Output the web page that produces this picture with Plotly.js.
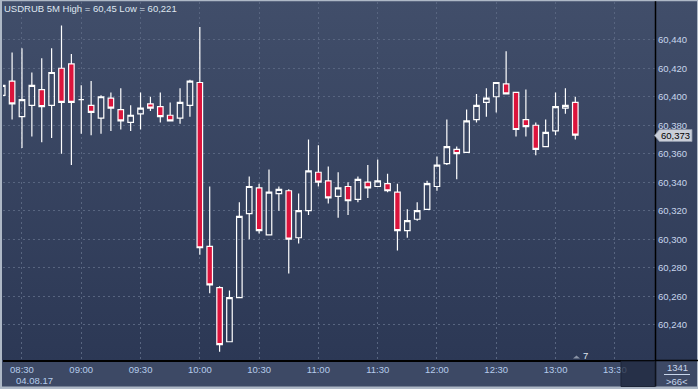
<!DOCTYPE html>
<html><head><meta charset="utf-8">
<script src="https://cdn.plot.ly/plotly-3.0.1.min.js"></script>
<style>
html,body{margin:0;padding:0;background:#3d4965;overflow:hidden;}
#chart{position:absolute;left:0;top:0;width:698px;height:389px;
background:linear-gradient(to bottom,#414e6a 0px,#2c3855 360px,#3d4965 360px,#3d4965 389px);}
</style></head><body><div id="chart"></div>
<script>
// ---- data (USDRUB, 5-minute candles, 04.08.17) ----
const times = ["08:20","08:25","08:30","08:35","08:40","08:45","08:50","08:55",
 "09:00","09:05","09:10","09:15","09:20","09:25","09:30","09:35","09:40","09:45","09:50","09:55",
 "10:00","10:05","10:10","10:15","10:20","10:25","10:30","10:35","10:40","10:45","10:50","10:55",
 "11:00","11:05","11:10","11:15","11:20","11:25","11:30","11:35","11:40","11:45","11:50","11:55",
 "12:00","12:05","12:10","12:15","12:20","12:25","12:30","12:35","12:40","12:45","12:50","12:55",
 "13:00","13:05","13:10"];
const openV = [60.401,60.411,60.386,60.394,60.405,60.394,60.420,60.423,
 60.398,60.394,60.385,60.399,60.391,60.382,60.388,60.395,60.393,60.387,60.385,60.394,
 60.410,60.295,60.266,60.228,60.259,60.318,60.336,60.303,60.332,60.334,60.301,60.320,
 60.347,60.341,60.330,60.337,60.328,60.340,60.337,60.339,60.333,60.306,60.314,60.321,
 60.337,60.353,60.363,60.361,60.384,60.396,60.400,60.409,60.403,60.384,60.380,60.365,
 60.376,60.392,60.396];
const highV = [60.409,60.431,60.434,60.417,60.427,60.434,60.450,60.430,
 60.408,60.411,60.401,60.403,60.406,60.394,60.403,60.400,60.403,60.396,60.406,60.412,
 60.449,60.337,60.267,60.264,60.326,60.344,60.339,60.349,60.337,60.335,60.332,60.370,
 60.366,60.351,60.347,60.340,60.344,60.352,60.356,60.346,60.339,60.321,60.326,60.341,
 60.358,60.384,60.365,60.391,60.402,60.406,60.410,60.432,60.403,60.405,60.382,60.384,
 60.403,60.406,60.400];
const lowV = [60.400,60.384,60.364,60.372,60.368,60.371,60.360,60.352,
 60.374,60.373,60.374,60.376,60.377,60.376,60.377,60.390,60.382,60.383,60.381,60.386,
 60.289,60.262,60.221,60.228,60.259,60.300,60.304,60.303,60.320,60.276,60.297,60.317,
 60.337,60.325,60.315,60.317,60.326,60.329,60.337,60.333,60.292,60.301,60.313,60.321,
 60.334,60.352,60.342,60.361,60.382,60.386,60.389,60.402,60.372,60.372,60.359,60.365,
 60.373,60.388,60.370];
const closeV = [60.408,60.395,60.398,60.408,60.393,60.417,60.396,60.396,
 60.398,60.389,60.400,60.392,60.383,60.387,60.392,60.392,60.386,60.383,60.396,60.411,
 60.294,60.268,60.226,60.259,60.316,60.337,60.306,60.333,60.335,60.300,60.320,60.348,
 60.340,60.329,60.336,60.327,60.342,60.336,60.341,60.334,60.306,60.313,60.320,60.339,
 60.352,60.365,60.360,60.383,60.394,60.399,60.410,60.402,60.377,60.379,60.363,60.375,
 60.393,60.394,60.373];
const yTicks = [60.24,60.26,60.28,60.30,60.32,60.34,60.36,60.38,60.40,60.42,60.44];
const dateLabel = "04.08.17";
const titleText = "USDRUB 5M High = 60,45 Low = 60,221";
const lastPriceText = "60,373";
const barCountText = "1341";
const zoomText = ">66<";
const markerText = "7";

// ---- geometry helpers (pixel -> paper) ----
const PL = 3, PR = 655, PT = 2, PB = 360;
const px = x => (x - PL) / (PR - PL);
const py = y => (PB - y) / (PB - PT);

const xs = times.map(t => "2017-08-04 " + t);

const trace = {
  type: "candlestick",
  x: xs, open: openV, high: highV, low: lowV, close: closeV,
  increasing: {line: {color: "#ffffff", width: 1.2}, fillcolor: "rgba(0,0,0,0)"},
  decreasing: {line: {color: "#ffffff", width: 1.2}, fillcolor: "#dc143c"},
  whiskerwidth: 0,
  hoverinfo: "skip",
  showlegend: false
};

const fontFam = "Liberation Sans, Arial, sans-serif";
const light = "#aeb8c6";

const shapes = [
  // frame
  {type:"rect", xref:"paper", yref:"paper", x0:px(0), x1:px(2), y0:py(389), y1:py(0), fillcolor:light, line:{width:0}},
  {type:"rect", xref:"paper", yref:"paper", x0:px(0), x1:px(698), y0:py(1.2), y1:py(0), fillcolor:light, line:{width:0}},
  {type:"rect", xref:"paper", yref:"paper", x0:px(0), x1:px(698), y0:py(389), y1:py(386.5), fillcolor:light, line:{width:0}},
  {type:"rect", xref:"paper", yref:"paper", x0:px(697), x1:px(698), y0:py(389), y1:py(0), fillcolor:light, line:{width:0}},
  // axis separators
  {type:"line", xref:"paper", yref:"paper", x0:px(655), x1:px(698), y0:py(360.5), y1:py(360.5), line:{color:"#000", width:1.5}},
  {type:"line", xref:"paper", yref:"paper", x0:px(655.5), x1:px(655.5), y0:py(386.5), y1:py(1.2), line:{color:"#000", width:1.5}},
  // scroll box in the time band
  {type:"rect", xref:"paper", yref:"paper", x0:px(621), x1:px(655), y0:py(386.5), y1:py(361.3), fillcolor:"rgba(32,41,64,0.78)", line:{color:"#1d2538", width:1}},
  // separator under bar count
  {type:"line", xref:"paper", yref:"paper", x0:px(664), x1:px(690), y0:py(374.5), y1:py(374.5), line:{color:"#c8d6ec", width:1}},
  // small marker triangle
  {type:"path", xref:"paper", yref:"paper",
   path:`M ${px(573)} ${py(358.5)} L ${px(576.5)} ${py(355.5)} L ${px(580)} ${py(358.5)} Z`,
   fillcolor:"#8a93a6", line:{width:0}},
  // last price tag
  {type:"path", xref:"paper", yref:"paper",
   path:`M ${px(654.5)} ${py(135.5)} L ${px(659.5)} ${py(129.5)} L ${px(692)} ${py(129.5)} L ${px(692)} ${py(141.5)} L ${px(659.5)} ${py(141.5)} Z`,
   fillcolor:"#c9ced8", line:{color:"#8e97a8", width:0.8}}
];

const ann = (text, x, y, size, color, xanchor) => ({
  text, xref:"paper", yref:"paper", x:px(x), y:py(y), xanchor: xanchor || "center", yanchor:"middle",
  showarrow:false, font:{family:fontFam, size, color}
});

const annotations = [
  ann(dateLabel, 34.5, 380, 9.5, "#b6ccec"),
  ann(barCountText, 677, 367.5, 9.5, "#c8d6ec"),
  ann(zoomText, 677, 381, 9.5, "#c8d6ec"),
  ann(markerText, 585, 355.5, 9.5, "#dfe6f0"),
  ann(lastPriceText, 675.5, 135.5, 9.5, "#000000")
];

const layout = {
  width: 698, height: 389,
  margin: {l: PL, r: 698 - PR, t: PT, b: 389 - PB, pad: 0},
  paper_bgcolor: "rgba(0,0,0,0)",
  plot_bgcolor: "rgba(0,0,0,0)",
  separators: ", ",
  boxgap: 0.2,
  hovermode: false,
  showlegend: false,
  font: {family: fontFam, size: 9.5, color: "#c8d6ec"},
  title: {text: titleText, xref: "container", yref: "container",
          x: 4/698, xanchor: "left", y: 1 - 8.5/389, yanchor: "middle",
          font: {family: fontFam, size: 9.5, color: "#dfe6f0"}},
  xaxis: {
    type: "date",
    range: ["2017-08-04 08:20:24", "2017-08-04 13:50:20"],
    dtick: 1800000, tickformat: "%H:%M",
    showgrid: true, gridcolor: "#586580", griddash: "2px,3px", gridwidth: 1,
    ticks: "", showline: true, linecolor: "#000", linewidth: 1.5,
    tickfont: {family: fontFam, size: 9.5, color: "#b6ccec"},
    rangeslider: {visible: false}, zeroline: false, fixedrange: true
  },
  yaxis: {
    side: "right",
    range: [60.2152, 60.4665],
    tickvals: yTicks, tickformat: ".3f",
    showgrid: true, gridcolor: "#586580", griddash: "2px,3px", gridwidth: 1,
    ticks: "", showline: false, zeroline: false, ticklabelstandoff: 2,
    tickfont: {family: fontFam, size: 9.5, color: "#c8d6ec"},
    fixedrange: true
  },
  shapes, annotations
};

Plotly.newPlot("chart", [trace], layout, {displayModeBar: false, staticPlot: true});
</script></body></html>
